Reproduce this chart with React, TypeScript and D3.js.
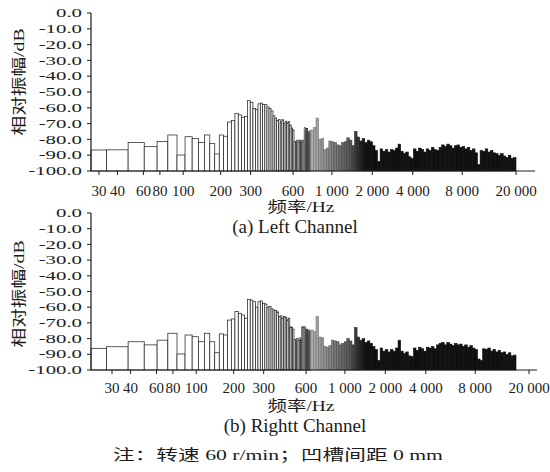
import React from "react";
import * as d3 from "d3";

// FFT bins of 13.5 Hz, first bin drawn is k = 2
const binWidth = 13.5;
const firstBin = 2;

// bins k = 2 .. 60 (dB)
const leftBins = [
  -86.7, -86.6, -82, -84.6, -81.4, -77.2, -89.9, -78.3, -79.4, -82,
  -77.2, -82.5, -89.2, -77.2, -78, -69, -68, -63.5, -64.5, -66,
  -65.5, -55.5, -56.5, -60.5, -61, -57.5, -57, -58, -58, -59.5,
  -60.5, -62, -65, -66.5, -68, -67.5, -69, -67.5, -70, -68.5,
  -69.5, -68.8, -71, -72.8, -74, -81.4, -82, -80.5, -81.5, -80.4,
  -82, -80.5, -81, -72.6, -74, -73, -75, -76, -74.5,
];
const rightBins = [
  -86.2, -85.2, -82, -84, -81, -76.6, -89.8, -77.7, -78.8, -82,
  -76.6, -82, -89, -77, -77.7, -68.2, -67.5, -62.8, -64, -65,
  -67, -55, -55.5, -56.5, -60, -56.5, -56, -57.5, -58, -60,
  -59.5, -61, -61.8, -62, -63, -66, -65.5, -67, -66, -66.5,
  -68, -67, -72.5, -73, -74, -80.5, -81.5, -80, -81, -79.5,
  -81, -72.4, -73, -72.5, -74.5, -74, -75, -74.5, -75.5,
];

// the dense part above ~817 Hz, read as 80 log-spaced bands up to 20 kHz
const bandTop = 20000;
const leftBands = [
  -74, -72.5, -66.5, -80, -79.5, -86.5, -85.5, -81, -81.5, -82,
  -83.5, -84, -82, -81.5, -79, -80.5, -84, -75, -78.5, -81,
  -79.5, -82, -80.5, -81.5, -84, -87, -94, -86, -87.5, -86.5,
  -88, -86.5, -87, -85.5, -83, -87.5, -89, -88, -91, -92,
  -86, -87.5, -85.5, -86.5, -88, -86, -87, -85, -86.5, -87,
  -85, -83.5, -84.5, -83, -84, -85.5, -84, -83.5, -85, -84.5,
  -86, -85, -87, -86, -88.5, -96, -87, -87.5, -86, -88,
  -87, -88.5, -89, -90, -89, -90.5, -91.5, -90, -92, -91.5,
];
const rightBands = [
  -74.5, -75.5, -66, -79, -79.5, -85, -85.5, -84.5, -81, -81.5,
  -82, -84, -83, -82, -80, -81.5, -84, -73, -79, -81,
  -80, -82.5, -81.5, -83, -85, -87, -94, -86, -88, -87,
  -88.5, -87, -88, -86, -81, -88, -89.5, -88.5, -91, -91.5,
  -86, -87.5, -85.5, -86.5, -88, -85.5, -86, -85, -86.5, -84,
  -83, -82.5, -84, -82.5, -83.5, -84.5, -83, -84, -83.5, -85,
  -84, -85.5, -84.5, -86, -87, -93, -94, -86.5, -87, -86,
  -88, -87, -88.5, -87.5, -89, -88.5, -90, -89, -91, -90.5,
];

const yTicks = [0, -10, -20, -30, -40, -50, -60, -70, -80, -90, -100];
const xTicks = [30, 40, 60, 80, 100, 200, 300, 600, 1000, 2000, 4000, 8000, 20000];
const xTickLabels = ["30", "40", "60", "80", "100", "200", "300", "600", "1 000", "2 000", "4 000", "8 000", "20 000"];

// the printed tick labels sit a bit off the true log positions
const tickNudge: Record<number, number> = { 80: -2, 100: 7, 300: 4, 600: 2, 1000: 8, 2000: 4, 8000: 5 };

const W = 550;
const H = 472;
const plotLeft = 91;
const font = "'Liberation Serif','Times New Roman','Noto Sans CJK SC',serif";
const ink = "#1c1c1c";

const xScale = d3.scaleLog().domain([30, 20000]).range([99, 516]);
const shade = d3
  .scaleLog<string>()
  .domain([816, 1500, 1900])
  .range(["#b0b0b0", "#555555", "#111111"])
  .clamp(true);

const panels = [
  { key: "a", y0: 13, y1: 171, bins: leftBins, bands: leftBands, shift: 0, axisEnd: 535, labelY: 196, titleY: 212, capY: 233, cap: "(a) Left Channel", yMid: 82 },
  { key: "b", y0: 213, y1: 370, bins: rightBins, bands: rightBands, shift: 13, axisEnd: 537, labelY: 393, titleY: 411, capY: 432, cap: "(b) Rightt Channel", yMid: 294 },
];

function Panel({ p }: { p: (typeof panels)[number] }) {
  const y = d3.scaleLinear().domain([-100, 0]).range([p.y1, p.y0]);
  const base = y(-100);

  const bins = p.bins.map((v, i) => {
    const k = firstBin + i;
    const x0 = Math.max(xScale((k - 0.5) * binWidth), plotLeft);
    const x1 = xScale((k + 0.5) * binWidth);
    return { x0, x1, v };
  });

  const bandLo = (firstBin + p.bins.length - 0.5) * binWidth;
  const n = p.bands.length;
  const edge = (i: number) => bandLo * Math.pow(bandTop / bandLo, i / n);
  const bands = p.bands.map((v, i) => {
    const f0 = edge(i);
    const f1 = edge(i + 1);
    const fill = shade(Math.sqrt(f0 * f1));
    return { x0: xScale(f0), x1: xScale(f1), v, fill, line: d3.color(fill)!.darker(0.9).formatHex() };
  });

  return (
    <g>
      {bins.map((b, i) => (
        <rect
          key={"bin" + i}
          x={b.x0}
          y={y(b.v)}
          width={b.x1 - b.x0}
          height={base - y(b.v)}
          fill="#fff"
          stroke="#262626"
          strokeWidth={0.75}
        />
      ))}
      {bands.map((b, i) => (
        <rect
          key={"band" + i}
          x={b.x0}
          y={y(b.v)}
          width={b.x1 - b.x0}
          height={base - y(b.v)}
          fill={b.fill}
          stroke={b.line}
          strokeWidth={0.6}
        />
      ))}

      {/* y axis */}
      <line x1={plotLeft} x2={plotLeft} y1={p.y0} y2={p.y1} stroke={ink} strokeWidth={1.2} />
      {yTicks.map((t) => (
        <g key={"yt" + t}>
          <line x1={plotLeft - 4} x2={plotLeft} y1={y(t)} y2={y(t)} stroke={ink} strokeWidth={1} />
          <text
            transform={`translate(${plotLeft - 9},${y(t)}) scale(1.6,1)`}
            textAnchor="end"
            dominantBaseline="central"
            fontSize={13}
            fill={ink}
          >
            {t.toFixed(1)}
          </text>
        </g>
      ))}
      <text
        transform={`translate(24,${p.yMid}) rotate(-90)`}
        textAnchor="middle"
        fontSize={15}
        textLength={107}
        lengthAdjust="spacingAndGlyphs"
        fill={ink}
      >
        相对振幅/dB
      </text>

      {/* x axis */}
      <line x1={plotLeft} x2={p.axisEnd} y1={base} y2={base} stroke={ink} strokeWidth={1.2} />
      {xTicks.map((t, i) => {
        const tx = xScale(t) + (tickNudge[t] || 0) + p.shift;
        return (
          <g key={"xt" + t}>
            <line x1={tx} x2={tx} y1={base} y2={base + 4} stroke={ink} strokeWidth={1} />
            <text x={tx} y={p.labelY} textAnchor="middle" fontSize={15} fill={ink}>
              {xTickLabels[i]}
            </text>
          </g>
        );
      })}
      <text x={301} y={p.titleY} textAnchor="middle" fontSize={15} textLength={67} lengthAdjust="spacingAndGlyphs" fill={ink}>
        频率/Hz
      </text>
      <text x={295} y={p.capY} textAnchor="middle" fontSize={19} fill={ink}>
        {p.cap}
      </text>
    </g>
  );
}

export default function App() {
  return (
    <svg
      width={W}
      height={H}
      style={{ position: "absolute", left: 0, top: 0, background: "#fff" }}
      fontFamily={font}
    >
      {panels.map((p) => (
        <Panel key={p.key} p={p} />
      ))}
      <text x={278} y={460} textAnchor="middle" fontSize={15} textLength={330} lengthAdjust="spacingAndGlyphs" fill={ink}>
        注：转速 60 r/min；凹槽间距 0 mm
      </text>
    </svg>
  );
}
